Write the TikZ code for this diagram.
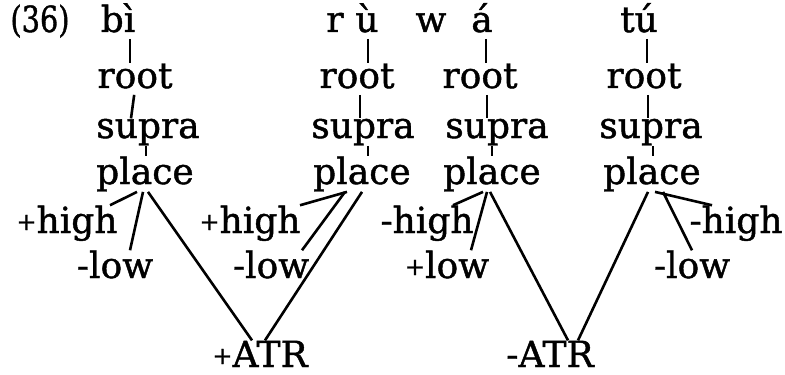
\documentclass[tikz,border=0pt]{standalone}
\usepackage{fontspec}
\setmainfont{DejaVu Serif}[FakeBold=1.2]
\usetikzlibrary{positioning}
\newcommand{\pl}{\raisebox{1.5pt}{\fontsize{12}{12}\selectfont +}}
\tikzset{
  seg/.style  ={font=\fontsize{18}{20}\selectfont, inner sep=0pt, anchor=base},
  tier/.style ={seg},
  feat/.style ={seg},
  assoc/.style={line width=1.3pt},
  stem/.style ={line width=1.3pt, shorten <=3pt},
}
\begin{document}
\begin{tikzpicture}[x=0.5pt, y=-0.5pt]
  \useasboundingbox (0,0) rectangle (785,374);
  % segments
  \node[seg, xscale=0.8] (ex) at (40,32)  {(36)};
  \node[seg] (bi) at (118,32) {bì};
  \node[seg] (r)  at (335,32) {r};
  \node[seg] (u)  at (367,32) {ù};
  \node[seg] (w)  at (431,32) {w};
  \node[seg] (a)  at (482,32) {á};
  \node[seg] (tu) at (639,32) {tú};
  % tiers
  \node[tier] (root1)  at (135,88)  {root};
  \node[tier] (root2)  at (357,88)  {root};
  \node[tier] (root3)  at (480,88)  {root};
  \node[tier] (root4)  at (644,88)  {root};
  \node[tier] (supra1) at (148,138) {supra};
  \node[tier] (supra2) at (363,138) {supra};
  \node[tier] (supra3) at (497,138) {supra};
  \node[tier] (supra4) at (651,138) {supra};
  \node[tier] (place1) at (145,184) {place};
  \node[tier] (place2) at (362,184) {place};
  \node[tier] (place3) at (492,184) {place};
  \node[tier] (place4) at (652,184) {place};
  % features
  \node[feat] (hi1) at (67,233)  {\pl high};
  \node[feat] (lo1) at (115,278) {-low};
  \node[feat] (hi2) at (250,233) {\pl high};
  \node[feat] (lo2) at (271,278) {-low};
  \node[feat] (hi3) at (427,233) {-high};
  \node[feat] (lo3) at (447,278) {\pl low};
  \node[feat] (hi4) at (736,233) {-high};
  \node[feat] (lo4) at (692,278) {-low};
  \node[feat] (atrp) at (260,367) {\pl ATR};
  \node[feat] (atrm) at (550,367) {-ATR};
  % vertical stems
  \draw[stem] (bi.south -| 130,0)     -- (root1.north -| 130,0);
  \draw[stem] (root1.south -| 135,0)  -- (supra1.north -| 131,0);
  \draw[assoc] (supra1.south -| 146,0) -- (place1.north -| 146,0);
  \draw[stem] (u.south -| 368,0)      -- (root2.north -| 368,0);
  \draw[stem] (root2.south -| 360,0)  -- (supra2.north -| 360,0);
  \draw[assoc] (supra2.south -| 368,0) -- (place2.north -| 368,0);
  \draw[stem] (a.south -| 486,0)      -- (root3.north -| 486,0);
  \draw[stem] (root3.south -| 487,0)  -- (supra3.north -| 487,0);
  \draw[assoc] (supra3.south -| 492,0) -- (place3.north -| 492,0);
  \draw[stem] (tu.south -| 647,0)     -- (root4.north -| 647,0);
  \draw[stem] (root4.south -| 648,0)  -- (supra4.north -| 648,0);
  \draw[assoc] (supra4.south -| 653,0) -- (place4.north -| 653,0);
  % place to features
  \draw[assoc] (place1.south -| 137,0) -- (hi1.north -| 110,0);
  \draw[assoc] (place1.south -| 143,0) -- (lo1.north -| 130,0);
  \draw[assoc] (place1.south -| 148,0) -- (atrp.north -| 252,0);
  \draw[assoc] (place2.south -| 347,0) -- (hi2.north -| 300,0);
  \draw[assoc] (place2.south -| 345,0) -- (lo2.north -| 302,0);
  \draw[assoc] (place2.south -| 362,0) -- (atrp.north -| 265,0);
  \draw[assoc] (place3.south -| 483,0) -- (hi3.north -| 453,0);
  \draw[assoc] (place3.south -| 487,0) -- (lo3.north -| 471,0);
  \draw[assoc] (place3.south -| 490,0) -- (atrm.north -| 568,0);
  \draw[assoc] (atrm.north -| 578,0)   -- (place4.south -| 648,0);
  \draw[assoc] (place4.south -| 655,0) -- (hi4.north -| 712,0);
  \draw[assoc] (place4.south -| 663,0) -- (lo4.north -| 692,0);
\end{tikzpicture}
\end{document}
